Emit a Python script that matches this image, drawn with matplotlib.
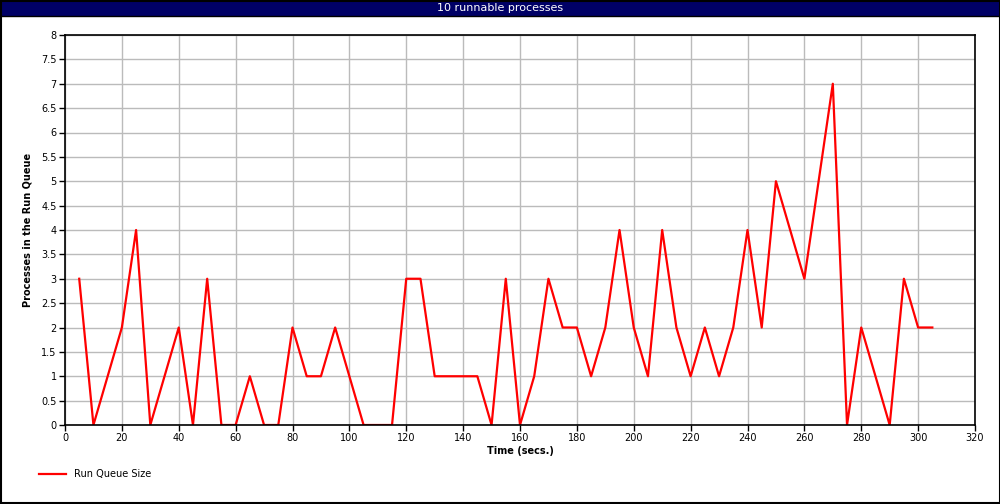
import matplotlib
matplotlib.use('Agg')
import matplotlib.pyplot as plt
from matplotlib.patches import Rectangle
import numpy as np

# sample times (secs) and run queue sizes
times = list(range(5, 310, 5))
queue = [3, 0, 1, 2, 4, 0, 1, 2, 0, 3,
         0, 0, 1, 0, 0, 2, 1, 1, 2, 1,
         0, 0, 0, 3, 3, 1, 1, 1, 1, 0,
         3, 0, 1, 3, 2, 2, 1, 2, 4, 2,
         1, 4, 2, 1, 2, 1, 2, 4, 2, 5,
         4, 3, 5, 7, 0, 2, 1, 0, 3, 2, 2]

title = '10 runnable processes'
series_name = 'Run Queue Size'

fig = plt.figure(figsize=(10, 5.04), dpi=100)
W, H = 1000, 504

# title bar
fig.patches.append(Rectangle((0, 1 - 16 / H), 1, 16 / H, transform=fig.transFigure,
                             facecolor='#000066', edgecolor='black', lw=1))
fig.text(0.5, 1 - 8 / H, title, color='white', ha='center', va='center', fontsize=8)
# outer border
fig.patches.append(Rectangle((0.0005, 0.001), 0.999, 0.998, transform=fig.transFigure,
                             facecolor='none', edgecolor='black', lw=1.5))

ax = fig.add_axes([65 / W, 1 - 425 / H, 910 / W, 390 / H])
ax.plot(times, queue, color='red', lw=1.6, label=series_name)
ax.set_xlim(0, 320)
ax.set_ylim(0, 8)
ax.set_xticks(np.arange(0, 321, 20))
ax.set_yticks(np.arange(0, 8.01, 0.5))
ax.set_yticklabels([('%g' % v) for v in np.arange(0, 8.01, 0.5)])
ax.grid(True, color='#bbbbbb', lw=1)
ax.set_axisbelow(True)
ax.tick_params(labelsize=7, length=4, width=1, pad=2)
for s in ax.spines.values():
    s.set_linewidth(1.2)
ax.set_xlabel('Time (secs.)', fontsize=7, fontweight='bold', labelpad=2)
ax.set_ylabel('Processes in the Run Queue', fontsize=7, fontweight='bold', labelpad=6)

fig.legend(loc='lower left', bbox_to_anchor=(30 / W, 16 / H), frameon=False,
           fontsize=7, handlelength=2.8)

fig.savefig('out.png', dpi=100)
